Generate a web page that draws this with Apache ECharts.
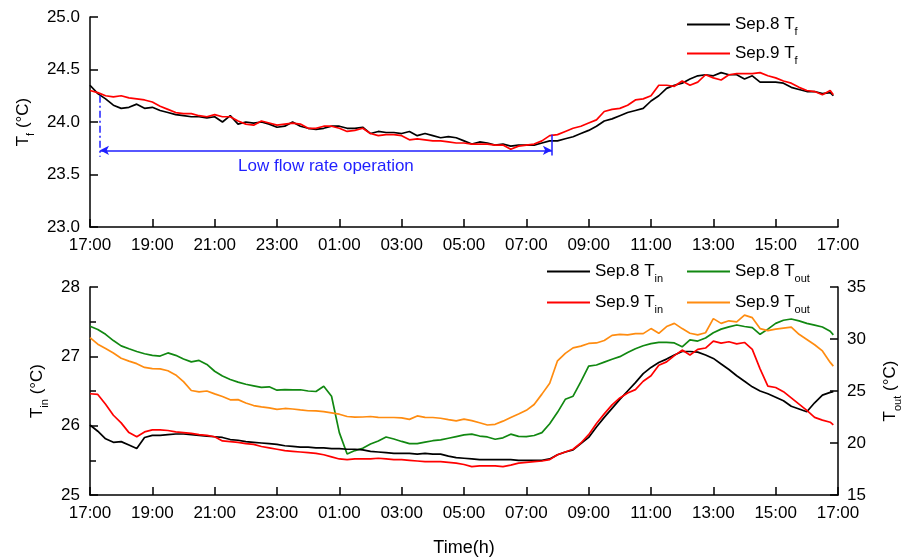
<!DOCTYPE html>
<html>
<head>
<meta charset="utf-8">
<script src="https://cdn.jsdelivr.net/npm/echarts@6/dist/echarts.min.js"></script>
<style>
html,body{margin:0;padding:0;background:#fff;}
#chart{width:901px;height:560px;}
</style>
</head>
<body>
<div id="chart"></div>
<script>
// Time in hours after 17:00 (Sep 8 / Sep 9 start), sampled every 15 min
const hours = [];
for (let i = 0; i < 96; i++) hours.push(i * 0.25);
hours.push(23.85);

const xTickStartHour = 17;

const sep8Tf = [24.35,24.27,24.22,24.16,24.13,24.14,24.17,24.13,
24.14,24.11,24.09,24.07,24.06,24.05,24.05,24.04,
24.05,24.00,24.06,23.98,24.00,23.99,24.00,23.98,
23.95,23.96,24.00,23.96,23.94,23.93,23.94,23.96,
23.96,23.94,23.94,23.95,23.89,23.91,23.90,23.90,
23.89,23.91,23.87,23.89,23.87,23.85,23.86,23.85,
23.82,23.79,23.81,23.80,23.78,23.79,23.77,23.78,
23.78,23.78,23.80,23.82,23.82,23.84,23.86,23.89,
23.92,23.96,24.01,24.03,24.06,24.09,24.11,24.13,
24.20,24.25,24.32,24.35,24.37,24.41,24.44,24.45,
24.44,24.47,24.45,24.45,24.41,24.44,24.38,24.38,
24.38,24.37,24.33,24.31,24.29,24.29,24.27,24.28,
24.25];

const sep9Tf = [24.30,24.28,24.25,24.24,24.25,24.23,24.22,24.21,
24.19,24.15,24.12,24.09,24.08,24.08,24.06,24.05,
24.07,24.05,24.05,24.01,23.98,23.97,24.01,23.99,
23.97,23.98,23.99,23.98,23.94,23.94,23.96,23.96,
23.94,23.91,23.92,23.94,23.89,23.87,23.88,23.88,
23.87,23.83,23.84,23.83,23.82,23.82,23.81,23.80,
23.80,23.79,23.79,23.79,23.78,23.78,23.74,23.77,
23.78,23.79,23.82,23.87,23.88,23.91,23.94,23.96,
23.99,24.02,24.10,24.12,24.13,24.16,24.21,24.22,
24.25,24.35,24.35,24.34,24.39,24.35,24.38,24.45,
24.42,24.40,24.45,24.46,24.46,24.46,24.47,24.44,
24.42,24.39,24.37,24.33,24.30,24.29,24.26,24.30,
24.26];

const sep8Tin = [26.01,25.92,25.81,25.76,25.77,25.72,25.67,25.83,
25.86,25.86,25.87,25.88,25.88,25.87,25.86,25.85,
25.84,25.83,25.80,25.79,25.77,25.76,25.75,25.74,
25.73,25.71,25.70,25.69,25.69,25.68,25.68,25.67,
25.67,25.66,25.66,25.65,25.63,25.62,25.61,25.60,
25.60,25.60,25.59,25.60,25.59,25.59,25.56,25.54,
25.53,25.52,25.51,25.51,25.51,25.51,25.51,25.50,
25.50,25.50,25.50,25.52,25.58,25.62,25.65,25.74,
25.83,25.98,26.12,26.25,26.38,26.50,26.62,26.75,
26.84,26.91,26.96,27.02,27.07,27.07,27.06,27.02,
26.97,26.89,26.81,26.72,26.64,26.56,26.50,26.46,
26.41,26.36,26.28,26.24,26.20,26.33,26.44,26.48,
26.49];

const sep9Tin = [26.46,26.45,26.31,26.15,26.04,25.90,25.84,25.91,
25.94,25.94,25.93,25.91,25.90,25.89,25.87,25.86,
25.84,25.78,25.77,25.76,25.74,25.73,25.70,25.68,
25.66,25.64,25.63,25.62,25.61,25.60,25.58,25.55,
25.52,25.51,25.52,25.52,25.52,25.53,25.52,25.51,
25.51,25.50,25.49,25.48,25.48,25.48,25.47,25.46,
25.44,25.41,25.42,25.42,25.42,25.41,25.43,25.46,
25.47,25.48,25.49,25.51,25.58,25.62,25.66,25.75,
25.87,26.03,26.17,26.30,26.40,26.47,26.52,26.64,
26.72,26.87,26.92,27.01,27.09,27.02,27.10,27.12,
27.22,27.19,27.21,27.18,27.20,27.10,26.82,26.57,
26.55,26.49,26.40,26.31,26.22,26.12,26.08,26.05,
26.01];

const sep8Tout = [31.22,30.92,30.45,29.85,29.34,29.06,28.80,28.58,
28.43,28.36,28.66,28.43,28.08,27.80,27.94,27.55,
26.90,26.44,26.10,25.85,25.65,25.50,25.35,25.40,
25.08,25.14,25.10,25.12,25.00,24.95,25.45,24.50,
21.00,18.95,19.27,19.50,19.90,20.20,20.58,20.38,
20.15,19.94,19.94,20.08,20.22,20.30,20.46,20.62,
20.78,20.86,20.67,20.58,20.36,20.50,20.85,20.64,
20.62,20.72,21.00,21.85,22.95,24.20,24.50,25.90,
27.40,27.50,27.78,28.05,28.30,28.70,29.06,29.35,
29.55,29.68,29.68,29.62,29.25,29.92,29.80,30.10,
30.60,30.95,31.16,31.35,31.20,31.10,30.45,30.95,
31.50,31.80,31.92,31.74,31.50,31.33,31.15,30.75,
30.40];

const sep9Tout = [30.13,29.50,29.08,28.65,28.15,27.87,27.63,27.27,
27.16,27.12,26.95,26.55,25.90,25.05,24.92,25.00,
24.72,24.47,24.15,24.17,23.85,23.60,23.48,23.38,
23.24,23.32,23.27,23.18,23.10,23.08,23.02,22.90,
22.77,22.55,22.48,22.50,22.55,22.47,22.45,22.45,
22.42,22.27,22.60,22.47,22.45,22.38,22.24,22.13,
22.30,22.15,21.95,21.73,21.80,22.10,22.45,22.78,
23.14,23.70,24.70,25.75,27.90,28.62,29.15,29.32,
29.57,29.62,29.85,30.35,30.44,30.40,30.52,30.52,
31.00,30.55,31.20,31.50,31.00,30.55,30.40,30.60,
31.96,31.50,31.75,31.65,32.30,32.05,31.00,30.80,
30.95,31.05,31.15,30.45,29.95,29.45,28.85,27.75,
27.39];

// Annotation: low flow rate operation period (hours after 17:00)
const lowFlowStart = 0.32;
const lowFlowEnd = 14.82;
const lowFlowArrowY = 23.73;

const FONT = 'Liberation Sans, Arial, sans-serif';
const pair = arr => arr.map((v, i) => [hours[i], v]);
const timeLabel = v => { const h = (xTickStartHour + v) % 24; return (h < 10 ? '0' : '') + h + ':00'; };

const subRich = {
  m: { fontSize: 17, fontFamily: FONT, color: '#000' },
  s: { fontSize: 11, fontFamily: FONT, color: '#000', padding: [14, 0, 0, 0] }
};
const legendFmt = name => { const i = name.lastIndexOf(' T'); return '{m|' + name.slice(0, i) + ' T}{s|' + name.slice(i + 2) + '}'; };

function legendAt(name, left, top) {
  return {
    data: [name], left: left, top: top, orient: 'horizontal',
    icon: 'rect', itemWidth: 43, itemHeight: 2, itemGap: 0, padding: 0,
    formatter: legendFmt, textStyle: { rich: subRich }, selectedMode: false
  };
}

const axisCommon = {
  axisLine: { show: true, lineStyle: { color: '#000', width: 1.5 } },
  axisTick: { show: true, inside: true, length: 8, lineStyle: { color: '#000', width: 1.5 } },
  axisLabel: { color: '#000', fontSize: 17, fontFamily: FONT },
  splitLine: { show: false }
};

const xAxisBase = (gridIndex) => Object.assign({}, axisCommon, {
  type: 'value', gridIndex: gridIndex, min: 0, max: 24, interval: 2,
  axisLabel: Object.assign({}, axisCommon.axisLabel, { formatter: timeLabel, margin: 10 })
});

const lineSeries = (name, data, color, xi, yi) => ({
  name: name, type: 'line', xAxisIndex: xi, yAxisIndex: yi,
  data: pair(data), symbol: 'none', showSymbol: false,
  lineStyle: { color: color, width: 1.7 }, itemStyle: { color: color },
  animation: false
});

const chart = echarts.init(document.getElementById('chart'), null, { renderer: 'canvas' });
const blue = '#1f1fff';

chart.setOption({
  backgroundColor: '#fff',
  animation: false,
  grid: [
    { left: 90, right: 63, top: 17, height: 210, containLabel: false, outerBoundsMode: 'none' },
    { left: 90, right: 63, top: 287, height: 208, containLabel: false, outerBoundsMode: 'none' }
  ],
  legend: [
    legendAt('Sep.8 Tf', 687, 16),
    legendAt('Sep.9 Tf', 687, 45),
    legendAt('Sep.8 Tin', 547, 263),
    legendAt('Sep.9 Tin', 547, 294),
    legendAt('Sep.8 Tout', 687, 263),
    legendAt('Sep.9 Tout', 687, 294)
  ],
  xAxis: [
    xAxisBase(0),
    Object.assign(xAxisBase(1), {
      name: 'Time(h)', nameLocation: 'middle', nameGap: 44,
      nameTextStyle: { color: '#000', fontSize: 18, fontFamily: FONT }
    })
  ],
  yAxis: [
    Object.assign({}, axisCommon, {
      type: 'value', gridIndex: 0, min: 23, max: 25, interval: 0.5,
      axisLabel: Object.assign({}, axisCommon.axisLabel, { formatter: v => v.toFixed(1), margin: 10 }),
      name: '{m|T}{s|f}{m| (°C)}', nameLocation: 'middle', nameRotate: 90, nameGap: 44,
      nameTextStyle: { rich: subRich }
    }),
    Object.assign({}, axisCommon, {
      type: 'value', gridIndex: 1, min: 25, max: 28, interval: 1,
      minorTick: { show: true, splitNumber: 2, length: 6, lineStyle: { color: '#000', width: 1.5 } },
      axisLabel: Object.assign({}, axisCommon.axisLabel, { margin: 10 }),
      name: '{m|T}{s|in}{m| (°C)}', nameLocation: 'middle', nameRotate: 90, nameGap: 29,
      nameTextStyle: { rich: subRich }
    }),
    Object.assign({}, axisCommon, {
      type: 'value', gridIndex: 1, position: 'right', min: 15, max: 35, interval: 5,
      axisLabel: Object.assign({}, axisCommon.axisLabel, { margin: 9 }),
      name: '{m|T}{s|out}{m| (°C)}', nameLocation: 'middle', nameRotate: 90, nameGap: 40,
      nameTextStyle: { rich: subRich }
    })
  ],
  series: [
    lineSeries('Sep.8 Tf', sep8Tf, '#000000', 0, 0),
    lineSeries('Sep.9 Tf', sep9Tf, '#ff0000', 0, 0),
    lineSeries('Sep.8 Tout', sep8Tout, '#118811', 1, 2),
    lineSeries('Sep.9 Tout', sep9Tout, '#ff8c10', 1, 2),
    lineSeries('Sep.8 Tin', sep8Tin, '#000000', 1, 1),
    lineSeries('Sep.9 Tin', sep9Tin, '#ff0000', 1, 1),
    {
      name: 'annotation', type: 'line', xAxisIndex: 0, yAxisIndex: 0, data: [],
      silent: true, animation: false,
      markLine: {
        silent: true, animation: false,
        data: [
          [{ coord: [lowFlowStart, 24.25], symbol: 'none', lineStyle: { type: [7, 3, 2, 3], color: blue, width: 1.5 } },
           { coord: [lowFlowStart, 23.67], symbol: 'none' }],
          [{ coord: [lowFlowEnd, 23.88], symbol: 'none', lineStyle: { type: 'solid', color: blue, width: 1.5 } },
           { coord: [lowFlowEnd, 23.68], symbol: 'none' }],
          [{ coord: [lowFlowStart, lowFlowArrowY], symbol: 'arrow', symbolSize: [7, 9],
             lineStyle: { type: 'solid', color: blue, width: 1.5 },
             label: { show: true, position: 'insideMiddleBottom', distance: 7, formatter: 'Low flow rate operation',
                      color: blue, fontSize: 17, fontFamily: FONT } },
           { coord: [lowFlowEnd, lowFlowArrowY], symbol: 'arrow', symbolSize: [7, 9] }]
        ],
        label: { show: false }
      }
    }
  ]
});
</script>
</body>
</html>
